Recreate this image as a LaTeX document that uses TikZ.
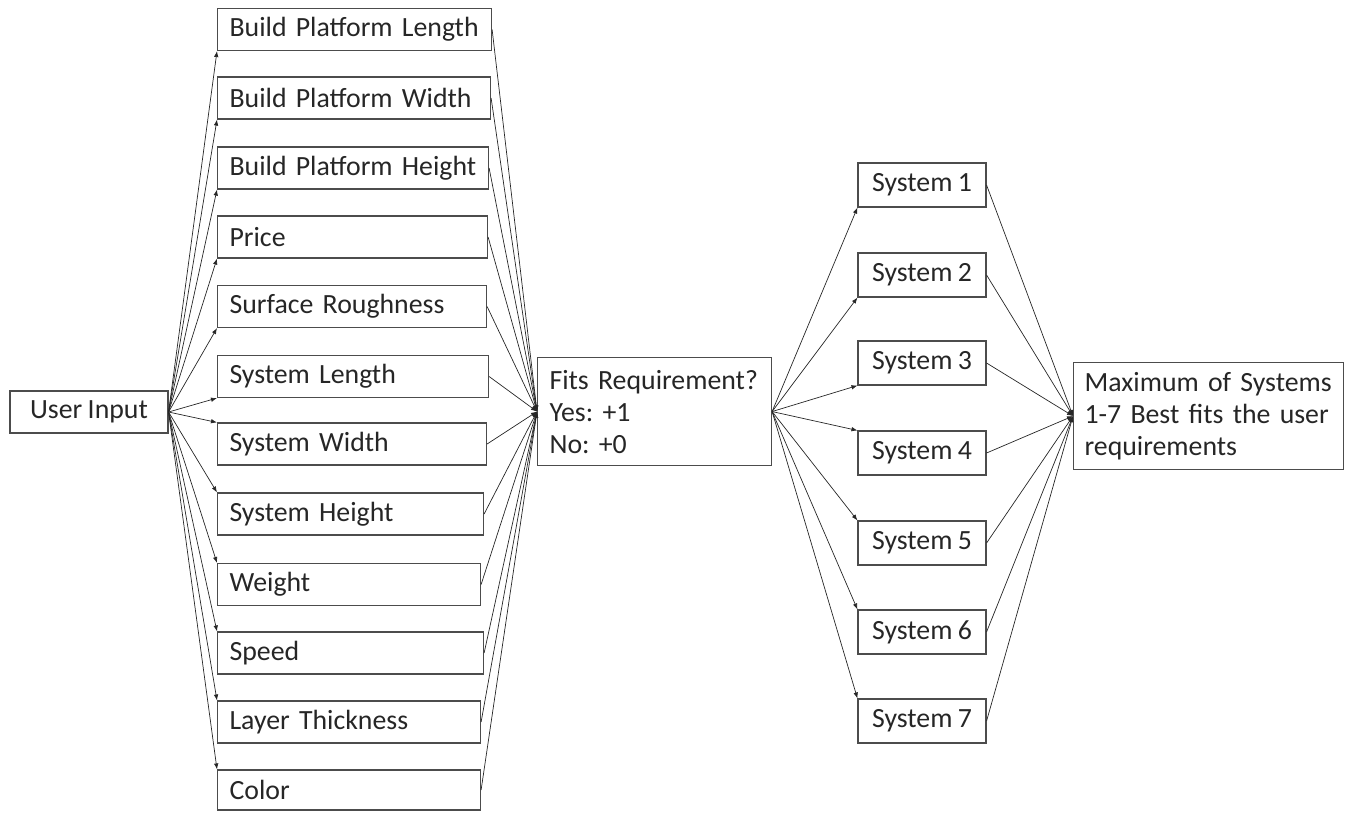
\documentclass[tikz,border=0pt]{standalone}
\usepackage{fontspec}
\setmainfont[WordSpace=0.85]{Carlito}
\usetikzlibrary{arrows.meta}
\begin{document}
\frenchspacing
\begin{tikzpicture}[x=1pt,y=-1pt,
  box/.style={draw=black!70, line width=1.1pt, inner ysep=0pt, inner xsep=12pt,
    font=\fontsize{27.8}{32}\selectfont\frenchspacing, text=black!85},
  lbox/.style={box, anchor=west, align=left, text width=#1, minimum height=42pt},
  sbox/.style={box, minimum width=128pt, minimum height=44pt, inner xsep=0pt},
  conn/.style={draw=black!85, line width=0.7pt, -{Latex[length=6pt,width=4.5pt]}}]
\useasboundingbox (0,0) rectangle (1346,812);

\node[box, minimum width=158pt, minimum height=42pt, inner xsep=0pt] (ui) at (89,412) {User Input};

\node[lbox=250pt] (b1) at (217,29.5) {Build Platform Length};
\node[lbox=249pt] (b2) at (217,98) {Build Platform Width};
\node[lbox=247pt] (b3) at (217,168) {Build Platform Height};
\node[lbox=246pt] (b4) at (217,237) {Price};
\node[lbox=245pt] (b5) at (217,306.5) {Surface Roughness};
\node[lbox=247pt] (b6) at (217,376.5) {System Length};
\node[lbox=245pt] (b7) at (217,444) {System Width};
\node[lbox=242pt] (b8) at (217,514) {System Height};
\node[lbox=239pt] (b9) at (217,584.5) {Weight};
\node[lbox=242pt] (b10) at (217,653) {Speed};
\node[lbox=239pt] (b11) at (217,722) {Layer Thickness};
\node[lbox=239pt, minimum height=40pt] (b12) at (217,790) {Color};

\node[box, anchor=north west, align=left, text width=210pt, minimum height=108pt] (fit) at (537,357)
  {Fits Requirement?\\Yes: +1\\No: +0};

\node[sbox] (s1) at (922,185) {System 1};
\node[sbox] (s2) at (922,275) {System 2};
\node[sbox] (s3) at (922,363) {System 3};
\node[sbox] (s4) at (922,453) {System 4};
\node[sbox] (s5) at (922,543) {System 5};
\node[sbox] (s6) at (922,632) {System 6};
\node[sbox] (s7) at (922,721) {System 7};

\node[box, anchor=north west, align=left, inner xsep=11pt, text width=248pt, minimum height=107pt] (max) at (1073,362)
  {Maximum of Systems\\1-7 Best fits the user\\requirements};

% user input to parameters
\foreach \i in {1,...,6} { \draw[conn] (ui.east) -- (b\i.south west); }
\foreach \i in {7,...,12} { \draw[conn] (ui.east) -- (b\i.north west); }
% parameters to fits
\foreach \i in {1,...,12} { \draw[conn] (b\i.east) -- (fit.west); }
% fits to systems
\foreach \i in {1,2,3} { \draw[conn] (fit.east) -- (s\i.south west); }
\foreach \i in {4,...,7} { \draw[conn] (fit.east) -- (s\i.north west); }
% systems to max
\foreach \i in {1,...,7} { \draw[conn] (s\i.east) -- (max.west); }
\end{tikzpicture}
\end{document}
